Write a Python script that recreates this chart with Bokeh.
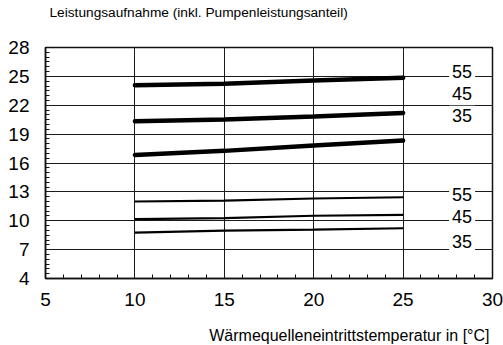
from bokeh.plotting import figure
from bokeh.models import Range1d, FixedTicker, Label, Title
from bokeh.embed import file_html
from bokeh.resources import INLINE

# Wärmequelleneintrittstemperatur [°C]
source_temp = [10, 15, 20, 25]

# Leistungsaufnahme, obere Kurvenschar (dicke Linien), Vorlauf 55 / 45 / 35 °C
upper_55 = [24.09, 24.24, 24.58, 24.86]
upper_45 = [20.33, 20.51, 20.82, 21.20]
upper_35 = [16.84, 17.26, 17.81, 18.33]

# Leistungsaufnahme, untere Kurvenschar (dünne Linien), Vorlauf 55 / 45 / 35 °C
lower_55 = [12.00, 12.10, 12.31, 12.44]
lower_45 = [10.17, 10.28, 10.52, 10.62]
lower_35 = [8.76, 8.97, 9.07, 9.22]

flow_temps = ["55", "45", "35"]

y_ticks = [4, 7, 10, 13, 16, 19, 22, 25, 28]
x_ticks = [5, 10, 15, 20, 25, 30]

FONT = "Liberation Sans"

p = figure(width=503, height=345, output_backend="svg", toolbar_location=None,
           x_range=Range1d(5, 30), y_range=Range1d(4, 28),
           min_border_left=45, min_border_right=11,
           min_border_top=47, min_border_bottom=67)
p.background_fill_color = "white"
p.border_fill_color = "white"
p.outline_line_color = "#111111"
p.outline_line_width = 1.5


def gap(size):
    """Leerer Abstandshalter zwischen Diagramm und Beschriftung."""
    return Title(text=" ", text_font_size="10px", standoff=size)


# Überschrift (mit Abstand zum Diagrammrahmen)
p.add_layout(gap(13), "above")
p.title.text = "Leistungsaufnahme (inkl. Pumpenleistungsanteil)"
p.title.align = "left"
p.title.offset = 4
p.title.standoff = 3
p.title.text_font = FONT
p.title.text_font_size = "13.7px"
p.title.text_font_style = "normal"
p.title.text_color = "black"

# Achsentitel rechtsbündig unter der x-Achse
p.add_layout(gap(2), "below")
p.add_layout(Title(text="Wärmequelleneintrittstemperatur in [°C]", align="right",
                   offset=3, standoff=2, text_font=FONT, text_font_size="16px",
                   text_font_style="normal", text_color="black"), "below")

# Achsen: Beschriftungen ohne Haupt-Striche, kleine Striche nach innen
y_minor = [v / 2 for v in range(8, 57) if (v / 2) not in y_ticks]
x_minor = [v for v in range(5, 31) if v not in x_ticks]
p.yaxis.ticker = FixedTicker(ticks=y_ticks, minor_ticks=y_minor)
p.xaxis.ticker = FixedTicker(ticks=x_ticks, minor_ticks=x_minor)

for ax in (p.xaxis[0], p.yaxis[0]):
    ax.axis_line_color = "#111111"
    ax.axis_line_width = 1.5
    ax.major_tick_in = 0
    ax.major_tick_out = 0
    ax.minor_tick_in = 4
    ax.minor_tick_out = 0
    ax.minor_tick_line_color = "#111111"
    ax.minor_tick_line_width = 1
    ax.major_label_text_font = FONT
    ax.major_label_text_font_size = "19px"
    ax.major_label_text_color = "black"
p.yaxis.major_label_standoff = 16
p.xaxis.major_label_standoff = 14

# Gitter
p.xgrid.ticker = FixedTicker(ticks=[10, 15, 20, 25])
p.ygrid.ticker = FixedTicker(ticks=y_ticks[1:-1])
for g in (p.xgrid[0], p.ygrid[0]):
    g.grid_line_color = "#1a1a1a"
    g.grid_line_width = 1
    g.grid_line_alpha = 1

# Kurven
for ys in (upper_55, upper_45, upper_35):
    p.line(source_temp, ys, line_color="black", line_width=4.5, line_cap="round")
for ys in (lower_55, lower_45, lower_35):
    p.line(source_temp, ys, line_color="black", line_width=2.2)

# Vorlauftemperatur-Beschriftung rechts
label_x = 28.3
upper_label_y = [25.5, 23.2, 20.95]
lower_label_y = [12.75, 10.4, 7.85]
for txt, ly in list(zip(flow_temps, upper_label_y)) + list(zip(flow_temps, lower_label_y)):
    p.add_layout(Label(x=label_x, y=ly, text=txt, text_align="center",
                       text_baseline="middle", text_font=FONT,
                       text_font_size="18px", text_color="black",
                       background_fill_color="white", padding=3))

open("out.html", "w").write(file_html(p, INLINE))
